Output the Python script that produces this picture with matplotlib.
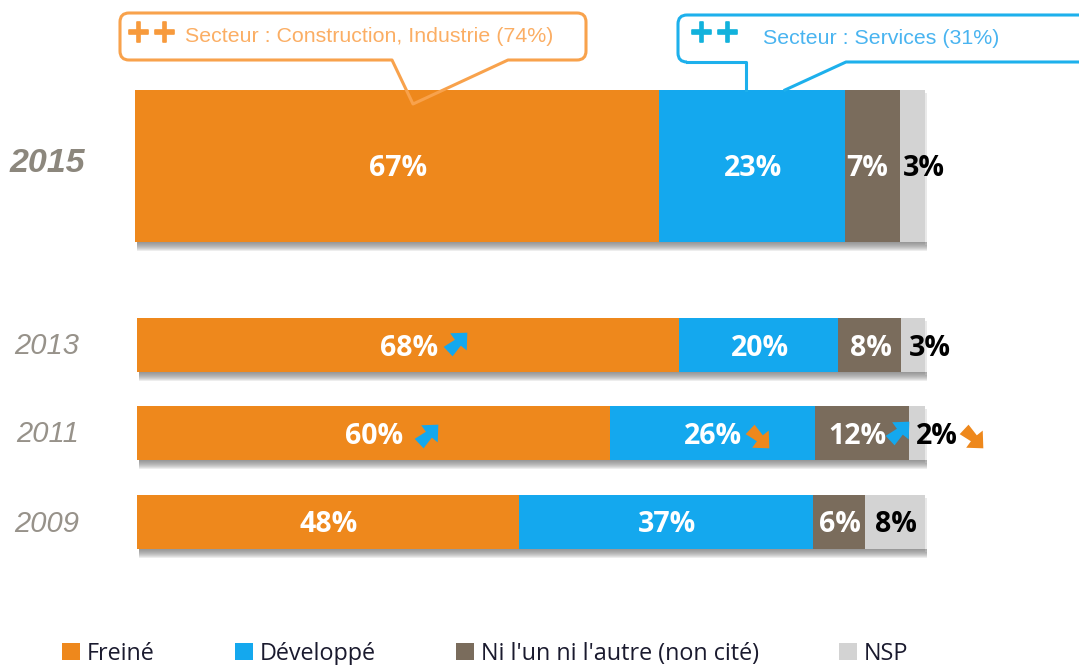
import matplotlib
matplotlib.use("Agg")
import matplotlib.pyplot as plt
import matplotlib.patheffects as pe
from matplotlib.patches import PathPatch, Rectangle
from matplotlib.path import Path

# chart data
years = ["2015", "2013", "2011", "2009"]
categories = ["Freiné", "Développé", "Ni l'un ni l'autre (non cité)", "NSP"]
# segment lengths as measured on the picture
freine = [66.5, 68.8, 60.0, 48.5]
developpe = [23.6, 20.2, 26.0, 37.3]
ni_ni = [7.0, 8.0, 12.0, 6.6]
nsp = [3.2, 3.0, 2.0, 7.6]
# printed percentages
freine_lab = [67, 68, 60, 48]
developpe_lab = [23, 20, 26, 37]
ni_ni_lab = [7, 8, 12, 6]
nsp_lab = [3, 3, 2, 8]

colors = ["#EE881C", "#14A8EE", "#7A6C5C", "#D3D3D3"]
text_colors = ["white", "white", "white", "black"]
line_orange = "#F8A24C"
line_blue = "#1DB0EC"
text_orange = "#FBAE64"
text_blue = "#49B4F0"
W, H = 1079, 665
plt.rcParams["font.family"] = ["Open Sans", "DejaVu Sans"]

fig = plt.figure(figsize=(W / 100, H / 100), dpi=100)
# deco: pixel coordinates, ax: 0-100 along x, pixels along y
deco = fig.add_axes([0, 0, 1, 1], zorder=1)
deco.set_xlim(0, W)
deco.set_ylim(H, 0)
deco.axis("off")
x0, x1 = 137, 925
ax = fig.add_axes([x0 / W, 0, (x1 - x0) / W, 1], zorder=2)
ax.set_xlim(0, 100)
ax.set_ylim(H, 0)
ax.axis("off")
top = fig.add_axes([0, 0, 1, 1], zorder=3)
top.set_xlim(0, W)
top.set_ylim(H, 0)
top.axis("off")

row_y = [166, 345, 433, 522]
row_h = [152, 54, 54, 54]
row_start = [-0.25, 0, 0, 0]

series = [freine, developpe, ni_ni, nsp]
labels = [freine_lab, developpe_lab, ni_ni_lab, nsp_lab]
# labels that do not sit in the middle of their segment, in px
shift = {(0, 2): -6, (0, 3): 10, (1, 3): 16, (2, 2): -5, (2, 3): 19}
left = list(row_start)
handles = []
for s in range(4):
    b = ax.barh(row_y, series[s], height=row_h, left=left, color=colors[s], label=categories[s],
                linewidth=0, clip_on=False)
    handles.append(b)
    for r in range(4):
        xc = left[r] + series[s][r] / 2 + shift.get((r, s), 0) * 100 / (x1 - x0)
        ax.text(xc + 0.1, row_y[r] + 3, str(labels[s][r]) + "%", color=text_colors[s], fontsize=20.5,
                fontweight="bold", ha="center", va="center", zorder=5, clip_on=False)
    left = [left[r] + series[s][r] for r in range(4)]

# soft shadow under the bars
for r in range(4):
    xa = x0 + row_start[r] * 7.88
    bottom = row_y[r] + row_h[r] / 2
    for i in range(9):
        deco.add_patch(Rectangle((xa + 2, bottom), x1 + 2 - (xa + 2), 9 - i, color="#6E6E6E",
                                 alpha=0.12, linewidth=0))
    deco.add_patch(Rectangle((x1, row_y[r] - row_h[r] / 2 + 3), 2, row_h[r], color="#C8C8C8",
                             alpha=0.4, linewidth=0))

# year labels
top.text(47, 164, years[0], color="#8C877D", fontsize=24.5, fontweight="bold", style="italic",
         family="Liberation Sans", ha="center", va="center")
for r, xc in zip([1, 2, 3], [47, 48, 47]):
    top.text(xc, row_y[r] + 1.5, years[r], color="#97928A", fontsize=21, style="italic",
             family="Liberation Sans", ha="center", va="center")


def callout(points, color):
    # rounded box with a pointed tail, corners listed as (x, y, rounded?)
    verts, codes = [], []
    r = 9
    for i, (x, y, rnd) in enumerate(points):
        if rnd:
            px, py = points[i - 1][:2]
            nx, ny = points[(i + 1) % len(points)][:2]
            d1 = max(abs(px - x), abs(py - y))
            d2 = max(abs(nx - x), abs(ny - y))
            verts += [(x + (px - x) * r / d1, y + (py - y) * r / d1), (x, y),
                      (x + (nx - x) * r / d2, y + (ny - y) * r / d2)]
            codes += [Path.LINETO if i else Path.MOVETO, Path.CURVE3, Path.CURVE3]
        else:
            verts.append((x, y))
            codes.append(Path.LINETO if i else Path.MOVETO)
    verts.append(verts[0])
    codes.append(Path.CLOSEPOLY)
    top.add_patch(PathPatch(Path(verts, codes), fill=False, edgecolor=color, linewidth=2.2, joinstyle="round"))


callout([(120, 13, True), (586, 13, True), (586, 60, True), (508, 60, False), (413, 104, False),
         (392, 60, False), (120, 60, True)], line_orange)
# the blue one has open ends on the bar
top.plot([746, 746, 687], [90, 62, 62], color=line_blue, linewidth=2.2, solid_joinstyle="round")
top.add_patch(PathPatch(Path([(687, 62), (678, 62), (678, 53), (678, 24), (678, 15), (687, 15), (1085, 15)],
                             [Path.MOVETO, Path.CURVE3, Path.CURVE3, Path.LINETO, Path.CURVE3, Path.CURVE3, Path.LINETO]),
                        fill=False, edgecolor=line_blue, linewidth=2.2))
top.plot([785, 846, 1085], [90, 62, 62], color=line_blue, linewidth=2.2)

thick = [pe.withStroke(linewidth=1.2, foreground="#F79A3C")]
top.text(151.5, 33, "++", color="#F79A3C", fontsize=22, fontweight="bold", family="DejaVu Sans",
         ha="center", va="center", path_effects=thick)
thick = [pe.withStroke(linewidth=1.2, foreground="#12B2DC")]
top.text(714.5, 33, "++", color="#12B2DC", fontsize=22, fontweight="bold", family="DejaVu Sans",
         ha="center", va="center", path_effects=thick)
top.text(185, 36, "Secteur : Construction, Industrie (74%)", color=text_orange, fontsize=15.4,
         family="Liberation Sans", va="center")
top.text(763, 38, "Secteur : Services (31%)", color=text_blue, fontsize=15.4,
         family="Liberation Sans", va="center")

# trend arrows
arrow_up = [(1, 1), (-0.45, 0.95), (-0.05, 0.4), (-1, -0.2), (-0.25, -1), (0.45, -0.1), (0.95, -0.5), (1, 1)]
arrow_down = [(x, -y) for x, y in arrow_up]
up_x, up_y = [455, 426, 897], [344, 436, 433]
down_x, down_y = [757, 971], [436, 436]
top.scatter(up_x, up_y, marker=arrow_up, s=290, color=colors[1], linewidths=0)
top.scatter(down_x, down_y, marker=arrow_down, s=290, color=colors[0], linewidths=0)

leg = fig.legend(handles=handles, ncol=4, loc="lower left", bbox_to_anchor=(53 / W, -10 / H), frameon=False,
                 fontsize=16.8, handlelength=0.75, handleheight=0.75, handletextpad=0.3, columnspacing=3.45,
                 borderaxespad=0, labelcolor="#1A1A2E")

fig.savefig("out.png", dpi=100)
